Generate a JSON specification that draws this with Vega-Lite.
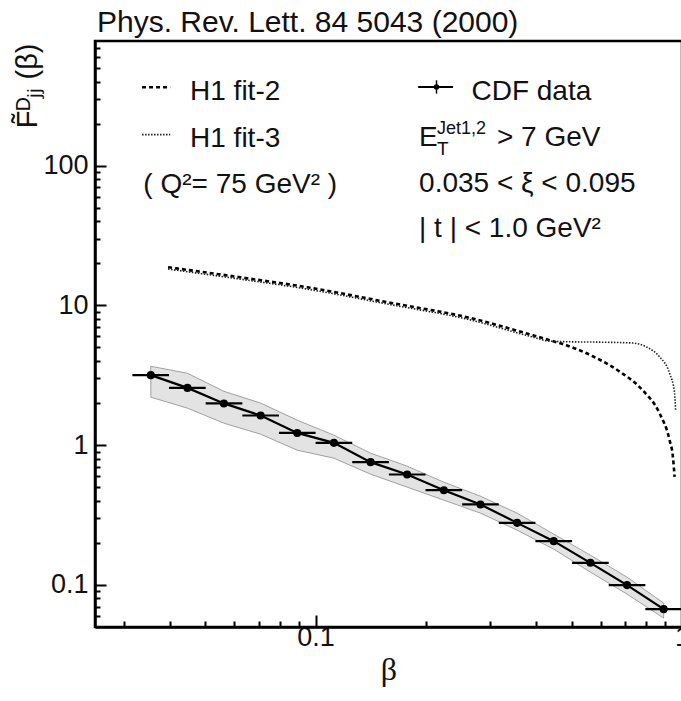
{
  "$schema": "https://vega.github.io/schema/vega-lite/v6.json",
  "width": 587,
  "height": 586,
  "autosize": {"type": "none"},
  "padding": {"left": 95, "top": 41, "right": 0, "bottom": 74},
  "background": "white",
  "config": {"font": "Liberation Sans", "view": {"stroke": "black", "strokeWidth": 2.5}},
  "title": {"text": "Phys. Rev. Lett. 84 5043 (2000)", "anchor": "start", "frame": "group", "fontSize": 30, "fontWeight": "normal", "font": "Liberation Sans", "color": "#111", "baseline": "alphabetic", "offset": -21, "dx": 2},
  "datasets": {
    "cdf": [
      {"beta": 0.0355, "F": 3.17, "beta_lo": 0.03162, "beta_hi": 0.03981, "band_lo": 2.205, "band_hi": 3.67},
      {"beta": 0.0447, "F": 2.57, "beta_lo": 0.03981, "beta_hi": 0.05012, "band_lo": 1.84, "band_hi": 3.27},
      {"beta": 0.0562, "F": 1.99, "beta_lo": 0.05012, "beta_hi": 0.0631, "band_lo": 1.437, "band_hi": 2.43},
      {"beta": 0.0708, "F": 1.63, "beta_lo": 0.0631, "beta_hi": 0.07943, "band_lo": 1.198, "band_hi": 2.0},
      {"beta": 0.0891, "F": 1.224, "beta_lo": 0.07943, "beta_hi": 0.1, "band_lo": 0.921, "band_hi": 1.51},
      {"beta": 0.1122, "F": 1.039, "beta_lo": 0.1, "beta_hi": 0.1259, "band_lo": 0.807, "band_hi": 1.179},
      {"beta": 0.1413, "F": 0.756, "beta_lo": 0.1259, "beta_hi": 0.1585, "band_lo": 0.62, "band_hi": 0.877},
      {"beta": 0.1778, "F": 0.617, "beta_lo": 0.1585, "beta_hi": 0.1995, "band_lo": 0.5007, "band_hi": 0.708},
      {"beta": 0.2239, "F": 0.4766, "beta_lo": 0.1995, "beta_hi": 0.2512, "band_lo": 0.4043, "band_hi": 0.5435},
      {"beta": 0.2818, "F": 0.3765, "beta_lo": 0.2512, "beta_hi": 0.3162, "band_lo": 0.3264, "band_hi": 0.4316},
      {"beta": 0.3548, "F": 0.278, "beta_lo": 0.3162, "beta_hi": 0.3981, "band_lo": 0.2466, "band_hi": 0.3264},
      {"beta": 0.4467, "F": 0.2057, "beta_lo": 0.3981, "beta_hi": 0.5012, "band_lo": 0.1803, "band_hi": 0.2309},
      {"beta": 0.5623, "F": 0.1439, "beta_lo": 0.5012, "beta_hi": 0.631, "band_lo": 0.1235, "band_hi": 0.1633},
      {"beta": 0.7079, "F": 0.0997, "beta_lo": 0.631, "beta_hi": 0.7943, "band_lo": 0.0859, "band_hi": 0.1137},
      {"beta": 0.8913, "F": 0.0671, "beta_lo": 0.7943, "beta_hi": 1.0, "band_lo": 0.0579, "band_hi": 0.0741}
    ],
    "fit2": [
      {"beta": 0.03957, "F": 18.76}, {"beta": 0.06215, "F": 15.91}, {"beta": 0.09469, "F": 13.5},
      {"beta": 0.1625, "F": 10.37}, {"beta": 0.2585, "F": 8.24}, {"beta": 0.3915, "F": 6.12},
      {"beta": 0.4353, "F": 5.64}, {"beta": 0.4835, "F": 5.19}, {"beta": 0.5706, "F": 4.33},
      {"beta": 0.6761, "F": 3.36}, {"beta": 0.7806, "F": 2.474}, {"beta": 0.8688, "F": 1.686},
      {"beta": 0.9251, "F": 1.086}, {"beta": 0.9445, "F": 0.825}, {"beta": 0.9546, "F": 0.593}
    ],
    "fit3": [
      {"beta": 0.03957, "F": 18.2}, {"beta": 0.06215, "F": 15.43}, {"beta": 0.09469, "F": 13.1},
      {"beta": 0.1625, "F": 10.06}, {"beta": 0.2585, "F": 7.99}, {"beta": 0.3915, "F": 5.94},
      {"beta": 0.4353, "F": 5.55}, {"beta": 0.4835, "F": 5.5}, {"beta": 0.596, "F": 5.46},
      {"beta": 0.7347, "F": 5.38}, {"beta": 0.7991, "F": 5.05}, {"beta": 0.8688, "F": 4.28},
      {"beta": 0.9251, "F": 3.27}, {"beta": 0.9546, "F": 2.355}, {"beta": 0.9605, "F": 1.78}
    ]
  },
  "layer": [
    {
      "data": {"name": "cdf"},
      "mark": {"type": "area", "fill": "#e3e3e3", "stroke": "#8c8c8c", "strokeWidth": 0.8},
      "encoding": {
        "x": {"field": "beta", "type": "quantitative", "scale": {"type": "log", "domain": [0.025, 1.0], "nice": false},
          "axis": {"orient": "bottom", "values": [0.03, 0.04, 0.05, 0.06, 0.07, 0.08, 0.09, 0.2, 0.3, 0.4, 0.5, 0.6, 0.7, 0.8, 0.9], "tickSize": -6, "tickWidth": 2, "tickColor": "black", "labels": false, "domain": false, "grid": false, "title": null}},
        "y": {"field": "band_hi", "type": "quantitative", "scale": {"type": "log", "domain": [0.05, 780], "nice": false},
          "axis": {"orient": "left", "values": [0.06, 0.07, 0.08, 0.09, 0.2, 0.3, 0.4, 0.5, 0.6, 0.7, 0.8, 0.9, 2, 3, 4, 5, 6, 7, 8, 9, 20, 30, 40, 50, 60, 70, 80, 90, 200, 300, 400, 500, 600, 700], "tickSize": -5, "tickWidth": 2, "tickColor": "black", "labels": false, "domain": false, "grid": false, "title": null}},
        "y2": {"field": "band_lo"}
      }
    },
    {
      "data": {"name": "fit2"},
      "mark": {"type": "line", "color": "black", "strokeWidth": 2.6, "strokeDash": [4, 3], "interpolate": "monotone"},
      "encoding": {
        "x": {"field": "beta", "type": "quantitative", "axis": null},
        "y": {"field": "F", "type": "quantitative", "axis": null}
      }
    },
    {
      "data": {"name": "fit3"},
      "mark": {"type": "line", "color": "#222", "strokeWidth": 1.6, "strokeDash": [1.5, 1.5], "interpolate": "monotone"},
      "encoding": {
        "x": {"field": "beta", "type": "quantitative", "axis": null},
        "y": {"field": "F", "type": "quantitative", "axis": null}
      }
    },
    {
      "data": {"name": "cdf"},
      "mark": {"type": "rule", "color": "black", "strokeWidth": 2.2},
      "encoding": {
        "x": {"field": "beta_lo", "type": "quantitative", "axis": null},
        "x2": {"field": "beta_hi"},
        "y": {"field": "F", "type": "quantitative", "axis": null}
      }
    },
    {
      "data": {"name": "cdf"},
      "mark": {"type": "line", "color": "black", "strokeWidth": 2.2},
      "encoding": {
        "x": {"field": "beta", "type": "quantitative", "axis": null},
        "y": {"field": "F", "type": "quantitative", "axis": null}
      }
    },
    {
      "data": {"name": "cdf"},
      "mark": {"type": "circle", "color": "black", "size": 65, "opacity": 1},
      "encoding": {
        "x": {"field": "beta", "type": "quantitative",
          "axis": {"orient": "bottom", "values": [0.1, 1], "labelExpr": "datum.value < 0.5 ? '0.1' : '1'", "tickSize": -12, "tickWidth": 2, "tickColor": "black", "domain": true, "domainColor": "black", "domainWidth": 2.5, "labelFontSize": 27, "labelFont": "Liberation Sans", "labelColor": "#111", "labelPadding": 9, "labelFlush": false, "labelOverlap": false, "labelBound": false, "grid": false, "title": "β", "titleFont": "Liberation Serif", "titleFontSize": 32, "titleFontWeight": "normal", "titleColor": "#111", "titleBaseline": "alphabetic", "titleY": 52}},
        "y": {"field": "F", "type": "quantitative",
          "axis": {"orient": "left", "values": [0.1, 1, 10, 100], "format": "~g", "tickSize": -11, "tickWidth": 2, "tickColor": "black", "domain": true, "domainColor": "black", "domainWidth": 2.5, "labelFontSize": 27, "labelFont": "Liberation Sans", "labelColor": "#111", "labelPadding": 18, "labelFlush": false, "labelOverlap": false, "labelBound": false, "grid": false, "title": "F̃ᴰⱼⱼ (β)", "titleFont": "Liberation Sans", "titleFontSize": 29, "titleFontWeight": "normal", "titleColor": "#111", "titleAngle": -90, "titleAlign": "right", "titleBaseline": "middle", "titleX": -68, "titleY": 2}}
      }
    },
    {
      "data": {"values": [{}]},
      "mark": {"type": "rule", "color": "black", "strokeWidth": 2.6, "strokeDash": [4, 3]},
      "encoding": {"x": {"datum": 0.0336, "type": "quantitative", "axis": null}, "x2": {"datum": 0.0401}, "y": {"datum": 364, "type": "quantitative", "axis": null}}
    },
    {
      "data": {"values": [{}]},
      "mark": {"type": "rule", "color": "#222", "strokeWidth": 1.6, "strokeDash": [1.5, 1.5]},
      "encoding": {"x": {"datum": 0.0336, "type": "quantitative", "axis": null}, "x2": {"datum": 0.0401}, "y": {"datum": 166.9, "type": "quantitative", "axis": null}}
    },
    {
      "data": {"values": [{}]},
      "mark": {"type": "rule", "color": "black", "strokeWidth": 2},
      "encoding": {"x": {"datum": 0.1905, "type": "quantitative", "axis": null}, "x2": {"datum": 0.2372}, "y": {"datum": 365.6, "type": "quantitative", "axis": null}}
    },
    {
      "data": {"values": [{}]},
      "mark": {"type": "rule", "color": "black", "strokeWidth": 1.5},
      "encoding": {"x": {"datum": 0.2138, "type": "quantitative", "axis": null}, "y": {"datum": 408, "type": "quantitative", "axis": null}, "y2": {"datum": 328}}
    },
    {
      "data": {"values": [{}]},
      "mark": {"type": "circle", "color": "black", "size": 30, "opacity": 1},
      "encoding": {"x": {"datum": 0.2138, "type": "quantitative", "axis": null}, "y": {"datum": 365.6, "type": "quantitative", "axis": null}}
    },
    {
      "data": {"values": [{}]},
      "mark": {"type": "text", "text": "H1 fit-2", "align": "left", "baseline": "alphabetic", "fontSize": 28, "color": "#111"},
      "encoding": {"x": {"datum": 0.04543, "type": "quantitative", "axis": null}, "y": {"datum": 297, "type": "quantitative", "axis": null}}
    },
    {
      "data": {"values": [{}]},
      "mark": {"type": "text", "text": "H1 fit-3", "align": "left", "baseline": "alphabetic", "fontSize": 28, "color": "#111"},
      "encoding": {"x": {"datum": 0.04543, "type": "quantitative", "axis": null}, "y": {"datum": 136.1, "type": "quantitative", "axis": null}}
    },
    {
      "data": {"values": [{}]},
      "mark": {"type": "text", "text": "( Q²= 75 GeV² )", "align": "left", "baseline": "alphabetic", "fontSize": 28, "color": "#111"},
      "encoding": {"x": {"datum": 0.03388, "type": "quantitative", "axis": null}, "y": {"datum": 63.8, "type": "quantitative", "axis": null}}
    },
    {
      "data": {"values": [{}]},
      "mark": {"type": "text", "text": "CDF data", "align": "left", "baseline": "alphabetic", "fontSize": 28, "color": "#111"},
      "encoding": {"x": {"datum": 0.2663, "type": "quantitative", "axis": null}, "y": {"datum": 297, "type": "quantitative", "axis": null}}
    },
    {
      "data": {"values": [{}]},
      "mark": {"type": "text", "text": "E", "align": "left", "baseline": "alphabetic", "fontSize": 28, "color": "#111"},
      "encoding": {"x": {"datum": 0.1916, "type": "quantitative", "axis": null}, "y": {"datum": 137.7, "type": "quantitative", "axis": null}}
    },
    {
      "data": {"values": [{}]},
      "mark": {"type": "text", "text": "T", "align": "left", "baseline": "alphabetic", "fontSize": 19, "color": "#111"},
      "encoding": {"x": {"datum": 0.2145, "type": "quantitative", "axis": null}, "y": {"datum": 118.7, "type": "quantitative", "axis": null}}
    },
    {
      "data": {"values": [{}]},
      "mark": {"type": "text", "text": "Jet1,2", "align": "left", "baseline": "alphabetic", "fontSize": 18, "color": "#111"},
      "encoding": {"x": {"datum": 0.2145, "type": "quantitative", "axis": null}, "y": {"datum": 167.7, "type": "quantitative", "axis": null}}
    },
    {
      "data": {"values": [{}]},
      "mark": {"type": "text", "text": "> 7 GeV", "align": "left", "baseline": "alphabetic", "fontSize": 28, "color": "#111"},
      "encoding": {"x": {"datum": 0.3125, "type": "quantitative", "axis": null}, "y": {"datum": 137.7, "type": "quantitative", "axis": null}}
    },
    {
      "data": {"values": [{}]},
      "mark": {"type": "text", "text": "0.035 < ξ < 0.095", "align": "left", "baseline": "alphabetic", "fontSize": 28, "color": "#111"},
      "encoding": {"x": {"datum": 0.1916, "type": "quantitative", "axis": null}, "y": {"datum": 64.9, "type": "quantitative", "axis": null}}
    },
    {
      "data": {"values": [{}]},
      "mark": {"type": "text", "text": "| t | < 1.0 GeV²", "align": "left", "baseline": "alphabetic", "fontSize": 28, "color": "#111"},
      "encoding": {"x": {"datum": 0.1916, "type": "quantitative", "axis": null}, "y": {"datum": 30.9, "type": "quantitative", "axis": null}}
    }
  ],
  "resolve": {"axis": {"x": "independent", "y": "independent"}}
}
